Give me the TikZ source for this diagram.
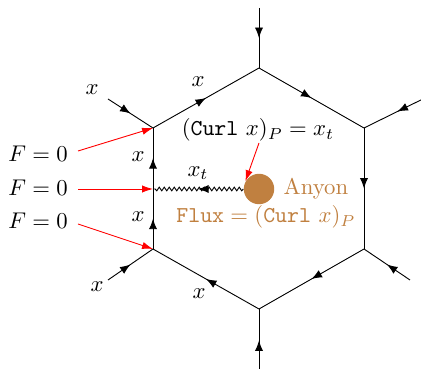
\documentclass[tikz,border=0pt]{standalone}
\usetikzlibrary{arrows.meta,decorations.markings,decorations.pathmorphing}
\definecolor{anyoncol}{RGB}{192,128,64}
\begin{document}
\begin{tikzpicture}[x=0.44pt,y=-0.44pt,
  midarrow/.style={postaction={decorate},decoration={markings,mark=at position 0.5 with {\arrow{Latex[length=4.6pt,width=3.6pt]}}}},
  twoarrows/.style={postaction={decorate},decoration={markings,mark=at position 0.25 with {\arrow{Latex[length=4.6pt,width=3.6pt]}},mark=at position 0.75 with {\arrow{Latex[length=4.6pt,width=3.6pt]}}}},
  redarrow/.style={red,-{Latex[length=4.8pt,width=3.2pt]}},
  lab/.style={inner sep=1pt}]
\useasboundingbox (0,0) rectangle (421,369);
% hexagon vertices
\coordinate (T) at (259,68);
\coordinate (UR) at (364,128);
\coordinate (LR) at (364,249);
\coordinate (B) at (259,309);
\coordinate (LL) at (153,249);
\coordinate (UL) at (153,128);
% leg ends
\coordinate (eT) at (259,8);
\coordinate (eUR) at (431,95);
\coordinate (eLR) at (410,280);
\coordinate (eB) at (259,372);
\coordinate (eLL) at (108,280);
\coordinate (eUL) at (108,99);
\coordinate (wl) at (153,189);
% hexagon edges
\draw[midarrow] (T) -- (UR);
\draw[midarrow] (UR) -- (LR);
\draw[midarrow] (LR) -- (B);
\draw[midarrow] (B) -- (LL);
\draw[twoarrows] (LL) -- (UL);
\draw[midarrow] (UL) -- (T);
% legs
\draw[midarrow] (eT) -- (T);
\draw[midarrow] (eUR) -- (UR);
\draw[midarrow] (eLR) -- (LR);
\draw[midarrow] (eB) -- (B);
\draw[midarrow] (eLL) -- (LL);
\draw[midarrow] (eUL) -- (UL);
% anyon
\node[circle,fill=anyoncol,minimum size=13.4pt,inner sep=0pt] (anyon) at (259,189) {};
\draw[decorate,decoration={snake,amplitude=0.8pt,segment length=2.2pt}] (anyon.west) -- (wl);
\path[midarrow] (anyon.west) -- (wl);
\node[lab] (xt) at (198,173) {$x_t$};
\node[lab,text=anyoncol,anchor=west] (any) at (281,189) {Anyon};
\node[lab,text=anyoncol] (flux) at (266,217) {$\texttt{Flux}=(\texttt{Curl}\ x)_P$};
\node[lab] (curl) at (258,130) {$(\texttt{Curl}\ x)_P=x_t$};
\draw[redarrow] (259,143) -- (anyon.150);
% x labels
\node[lab] (x1) at (92,90) {$x$};
\node[lab] (x2) at (198,82) {$x$};
\node[lab] (x3) at (138,157) {$x$};
\node[lab] (x4) at (138,217) {$x$};
\node[lab] (x5) at (97,287) {$x$};
\node[lab] (x6) at (199,294) {$x$};
% F=0 labels
\node[lab] (f1) at (38,154) {$F=0$};
\node[lab] (f2) at (38,188) {$F=0$};
\node[lab] (f3) at (38,221) {$F=0$};
\draw[redarrow] (78,151) -- (UL);
\draw[redarrow] (78,189) -- (wl);
\draw[redarrow] (78,224) -- (LL);
\end{tikzpicture}
\end{document}
